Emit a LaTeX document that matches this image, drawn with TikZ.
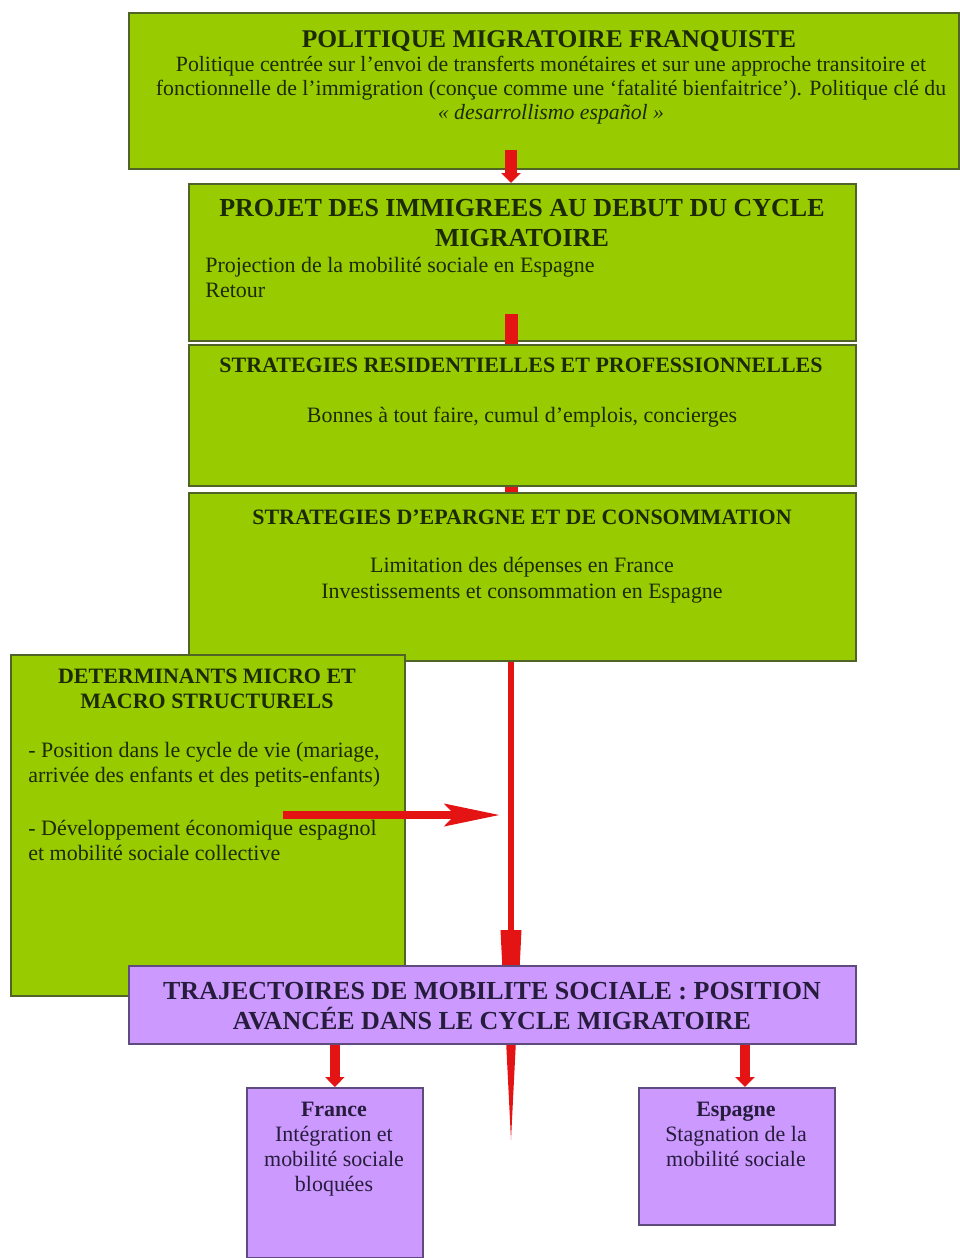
\documentclass[tikz,border=0pt]{standalone}
\usepackage{fontspec}
\setmainfont{Liberation Serif}
\usetikzlibrary{arrows.meta,calc}

\definecolor{boxgreen}{RGB}{153,204,0}
\definecolor{greenline}{RGB}{80,100,40}
\definecolor{boxpurple}{RGB}{204,153,255}
\definecolor{purpleline}{RGB}{95,75,125}
\definecolor{arrowred}{RGB}{228,20,20}
\definecolor{greentext}{RGB}{28,42,6}
\definecolor{purpletext}{RGB}{38,28,60}

\pgfdeclarelayer{background}
\pgfsetlayers{background,main}

\begin{document}
\begin{tikzpicture}[x=0.02cm, y=0.02cm,
    greenbox/.style={draw=greenline, fill=boxgreen, line width=1pt, anchor=north west, inner sep=0},
    purplebox/.style={draw=purpleline, fill=boxpurple, line width=1pt, anchor=north west, inner sep=0},
    bigtitle/.style={font=\fontsize{14.5}{17}\selectfont\bfseries, text=greentext, align=center, anchor=north, inner sep=0},
    smalltitle/.style={font=\fontsize{12.5}{14.2}\selectfont\bfseries, text=greentext, align=center, anchor=north, inner sep=0},
    bodytext/.style={font=\fontsize{12.5}{14.2}\selectfont, text=greentext, align=center, anchor=north, inner sep=0},
    redline/.style={draw=arrowred, line width=#1},
    smallhead/.style={-{Triangle[length=0.2cm,width=0.38cm]}}
  ]
  \useasboundingbox (0,0) rectangle (960,-1258);

  % boxes
  \node[greenbox, minimum width=16.6cm, minimum height=3.12cm] (politique) at (128,-12) {};
  \node[greenbox, minimum width=13.34cm, minimum height=3.14cm] (projet) at (188,-183) {};
  \node[greenbox, minimum width=13.34cm, minimum height=2.82cm] (resid) at (188,-344) {};
  \node[greenbox, minimum width=13.34cm, minimum height=3.36cm] (epargne) at (188,-492) {};
  \node[greenbox, minimum width=7.88cm, minimum height=6.82cm] (determinants) at (10,-654) {};
  \node[purplebox, minimum width=14.54cm, minimum height=1.56cm] (trajectoires) at (128,-965) {};
  \node[purplebox, minimum width=3.52cm, minimum height=3.4cm] (france) at (246,-1087) {};
  \node[purplebox, minimum width=3.92cm, minimum height=2.74cm] (espagne) at (638,-1087) {};

  \coordinate (spine) at (511,0);
  \coordinate (espaxis) at (745,0);
  \coordinate (tip) at (511,-1140);
  \coordinate (detout) at (283,-815);

  % texts
  \node[bigtitle] (politiquetitle) at (549,-30) {POLITIQUE MIGRATOIRE FRANQUISTE};
  \node[bodytext, font=\fontsize{12.4}{13.6}\selectfont] (politiquebody) at (551,-56)
    {Politique centrée sur l’envoi de transferts monétaires et sur une approche transitoire et\\
     fonctionnelle de l’immigration (conçue comme une ‘fatalité bienfaitrice’). Politique clé du\\
     \textit{« desarrollismo español »}};

  \node[bigtitle, font=\fontsize{14.8}{17}\selectfont\bfseries] (projettitle) at (522,-199)
    {PROJET DES IMMIGREES AU DEBUT DU CYCLE\\ MIGRATOIRE};
  \node[bodytext, align=left, anchor=north west] (projetbody) at (205,-257)
    {Projection de la mobilité sociale en Espagne\\ Retour};

  \node[smalltitle] (residtitle) at (521,-358) {STRATEGIES RESIDENTIELLES ET PROFESSIONNELLES};
  \node[bodytext] (residbody) at (522,-407) {Bonnes à tout faire, cumul d’emplois, concierges};

  \node[smalltitle] (epargnetitle) at (522,-510) {STRATEGIES D’EPARGNE ET DE CONSOMMATION};
  \node[bodytext, font=\fontsize{12.5}{14.7}\selectfont] (epargnebody) at (522,-557)
    {Limitation des dépenses en France\\ Investissements et consommation en Espagne};

  \node[smalltitle] (dettitle) at (207,-669) {DETERMINANTS MICRO ET\\ MACRO STRUCTURELS};
  \node[bodytext, align=left, anchor=north west] (detbody) at (28,-742)
    {- Position dans le cycle de vie (mariage,\\ arrivée des enfants et des petits-enfants)\\[16pt]
     - Développement économique espagnol\\ et mobilité sociale collective};

  \node[bigtitle, font=\fontsize{14.8}{17}\selectfont\bfseries, text=purpletext] (trajtitle) at (492,-982)
    {TRAJECTOIRES DE MOBILITE SOCIALE : POSITION\\ AVANCÉE DANS LE CYCLE MIGRATOIRE};

  \node[bodytext, text=purpletext] (francetext) at (334,-1102)
    {\textbf{France}\\ Intégration et\\ mobilité sociale\\ bloquées};
  \node[bodytext, text=purpletext] (espagnetext) at (736,-1102)
    {\textbf{Espagne}\\ Stagnation de la\\ mobilité sociale};

  % arrows
  \draw[redline=0.24cm, smallhead] ($(spine |- politique.south)+(0,20)$) -- (spine |- projet.north);
  \draw[redline=0.26cm] ($(spine |- projet.south)+(0,28)$) -- (spine |- resid.north);
  \begin{pgfonlayer}{background}
    \draw[redline=0.26cm] (spine |- resid.south) -- (spine |- epargne.north);
    \draw[redline=0.12cm, -{Triangle[length=4.2cm,width=0.42cm,line width=0pt]}] (spine |- epargne.south) -- (tip);
  \end{pgfonlayer}
  \draw[redline=0.16cm, -{Stealth[length=1.1cm,width=0.44cm,inset=0.2cm]}] (detout) -- ($(spine |- detout)+(-11,0)$);
  \draw[redline=0.2cm, smallhead] (france.north |- trajectoires.south) -- (france.north);
  \draw[redline=0.2cm, smallhead] (espaxis |- trajectoires.south) -- (espaxis |- espagne.north);
\end{tikzpicture}
\end{document}
